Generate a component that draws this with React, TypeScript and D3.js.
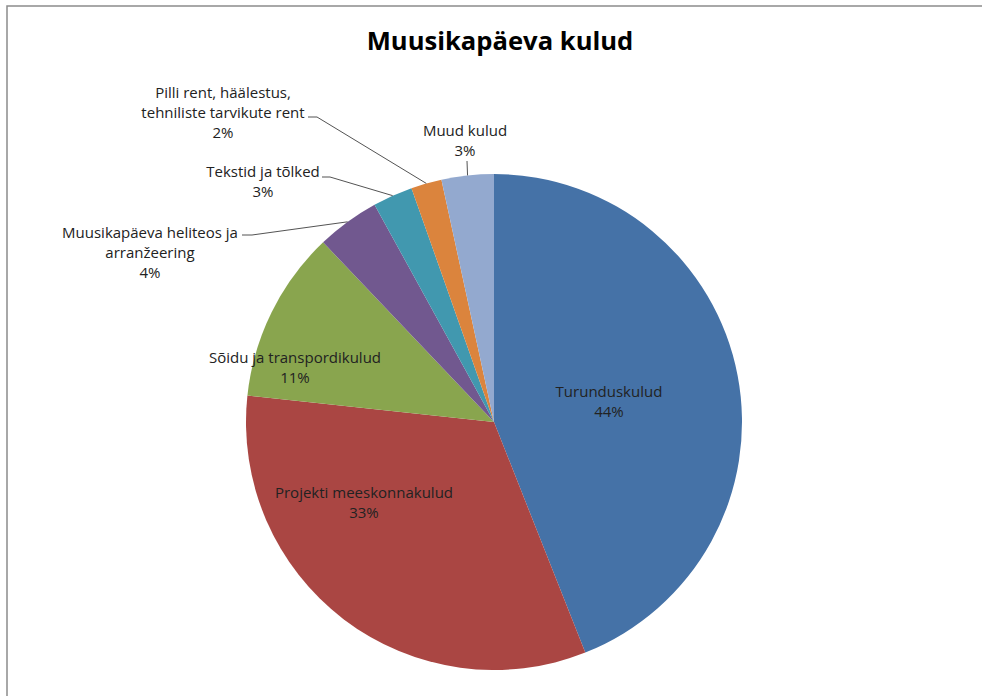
import React from "react";
import * as d3 from "d3";

const TITLE = "Muusikapäeva kulud";
const CATEGORIES = [
  ["Turunduskulud"],
  ["Projekti meeskonnakulud"],
  ["Sõidu ja transpordikulud"],
  ["Muusikapäeva heliteos ja", "arranžeering"],
  ["Tekstid ja tõlked"],
  ["Pilli rent, häälestus,", "tehniliste tarvikute rent"],
  ["Muud kulud"],
];
const VALUES = [44.0, 32.7, 11.2, 4.1, 2.6, 2.0, 3.4];
const COLORS = ["#4572A7", "#AA4643", "#89A54E", "#71588F", "#4198AF", "#DB843D", "#93A9CF"];

// label layout: center x, first baseline y, optional leader start [x,y] and elbow [x,y]
const LABEL_LAYOUT: { x: number; y: number; lead?: [number, number][] }[] = [
  { x: 609, y: 397 },
  { x: 364, y: 498 },
  { x: 295, y: 363 },
  { x: 150, y: 238, lead: [[242, 235], [252, 235]] },
  { x: 263, y: 177, lead: [[322, 177], [330, 177]] },
  { x: 223, y: 98, lead: [[308, 117], [317, 117]] },
  { x: 465, y: 136, lead: [[467, 161]] },
];

const W = 982, H = 696;
const CX = 494, CY = 422, R = 248;
const FONT = "'Open Sans', Lato, sans-serif";

export default function App() {
  const total = d3.sum(VALUES);
  const pie = d3.pie<number>().value((d) => d).sort(null);
  const arcs = pie(VALUES);
  const arc = d3.arc<d3.PieArcDatum<number>>().innerRadius(0).outerRadius(R);
  const edge = d3.arc<d3.PieArcDatum<number>>().innerRadius(R).outerRadius(R);
  return (
    <div style={{ position: "fixed", left: 0, top: 0 }}>
      <svg width={W} height={H} style={{ display: "block", background: "#fff" }}>
        <rect x={7} y={6} width={W + 20} height={H + 20} fill="#fff" stroke="#8c8c8c" strokeWidth={1.5} />
        <text x={500} y={50} textAnchor="middle" fontFamily={FONT} fontWeight="bold" fontSize={25.6} fill="#000">
          {TITLE}
        </text>
        <g transform={`translate(${CX},${CY})`}>
          {arcs.map((a, i) => (
            <path key={i} d={arc(a) || ""} fill={COLORS[i]} />
          ))}
        </g>
        {arcs.map((a, i) => {
          const L = LABEL_LAYOUT[i];
          if (!L.lead) return null;
          const [ex, ey] = edge.centroid(a);
          const pts = [...L.lead, [CX + ex, CY + ey]];
          return (
            <polyline key={"l" + i} points={pts.map((p) => p.join(",")).join(" ")} fill="none" stroke="#404040" strokeWidth={0.9} />
          );
        })}
        {arcs.map((a, i) => {
          const L = LABEL_LAYOUT[i];
          const lines = [...CATEGORIES[i], `${Math.round((VALUES[i] / total) * 100)}%`];
          return (
            <text key={"t" + i} textAnchor="middle" fontFamily={FONT} fontSize={15} fill="#222">
              {lines.map((s, j) => (
                <tspan key={j} x={L.x} y={L.y + j * 20}>
                  {s}
                </tspan>
              ))}
            </text>
          );
        })}
      </svg>
    </div>
  );
}
